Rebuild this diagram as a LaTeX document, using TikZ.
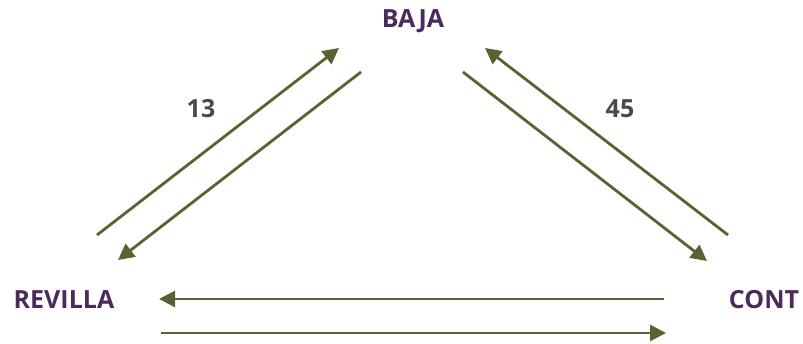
\documentclass[tikz,border=0pt]{standalone}
\usepackage{fontspec}
\setmainfont{Open Sans}
\usetikzlibrary{arrows.meta}
\definecolor{plum}{HTML}{4B2A5C}
\definecolor{olive}{HTML}{5A6233}
\definecolor{numgray}{HTML}{4A4A4C}
\tikzset{
  lbl/.style={font=\fontsize{25}{30}\selectfont\bfseries, text=plum, inner sep=0pt},
  num/.style={font=\fontsize{25}{30}\selectfont\bfseries, text=numgray, inner sep=0pt},
  arr/.style={draw=olive, line width=2.8pt, -{Triangle[length=16pt,width=16pt]}}
}
\begin{document}
\begin{tikzpicture}[x=1pt,y=-1pt]
\useasboundingbox (0,0) rectangle (803,344);
\node[lbl] (baja) at (413,21) {BAJA};
\node[lbl] (revilla) at (64,300) {REVILLA};
\node[lbl] (cont) at (764,300) {CONT};
\node[num] (n13) at (201,109) {13};
\node[num] (n45) at (620,109) {45};
\coordinate (a1s) at (97,235); \coordinate (a1e) at (339,48);
\coordinate (a2s) at (361,72); \coordinate (a2e) at (118,260);
\coordinate (a3s) at (463,72); \coordinate (a3e) at (707,261);
\coordinate (a4s) at (728,235); \coordinate (a4e) at (485,48);
\coordinate (a5s) at (664,299); \coordinate (a5e) at (159,299);
\coordinate (a6s) at (161,333); \coordinate (a6e) at (666,333);
\draw[arr] (a1s) -- (a1e);
\draw[arr] (a2s) -- (a2e);
\draw[arr] (a3s) -- (a3e);
\draw[arr] (a4s) -- (a4e);
\draw[arr] (a5s) -- (a5e);
\draw[arr] (a6s) -- (a6e);
\end{tikzpicture}
\end{document}
